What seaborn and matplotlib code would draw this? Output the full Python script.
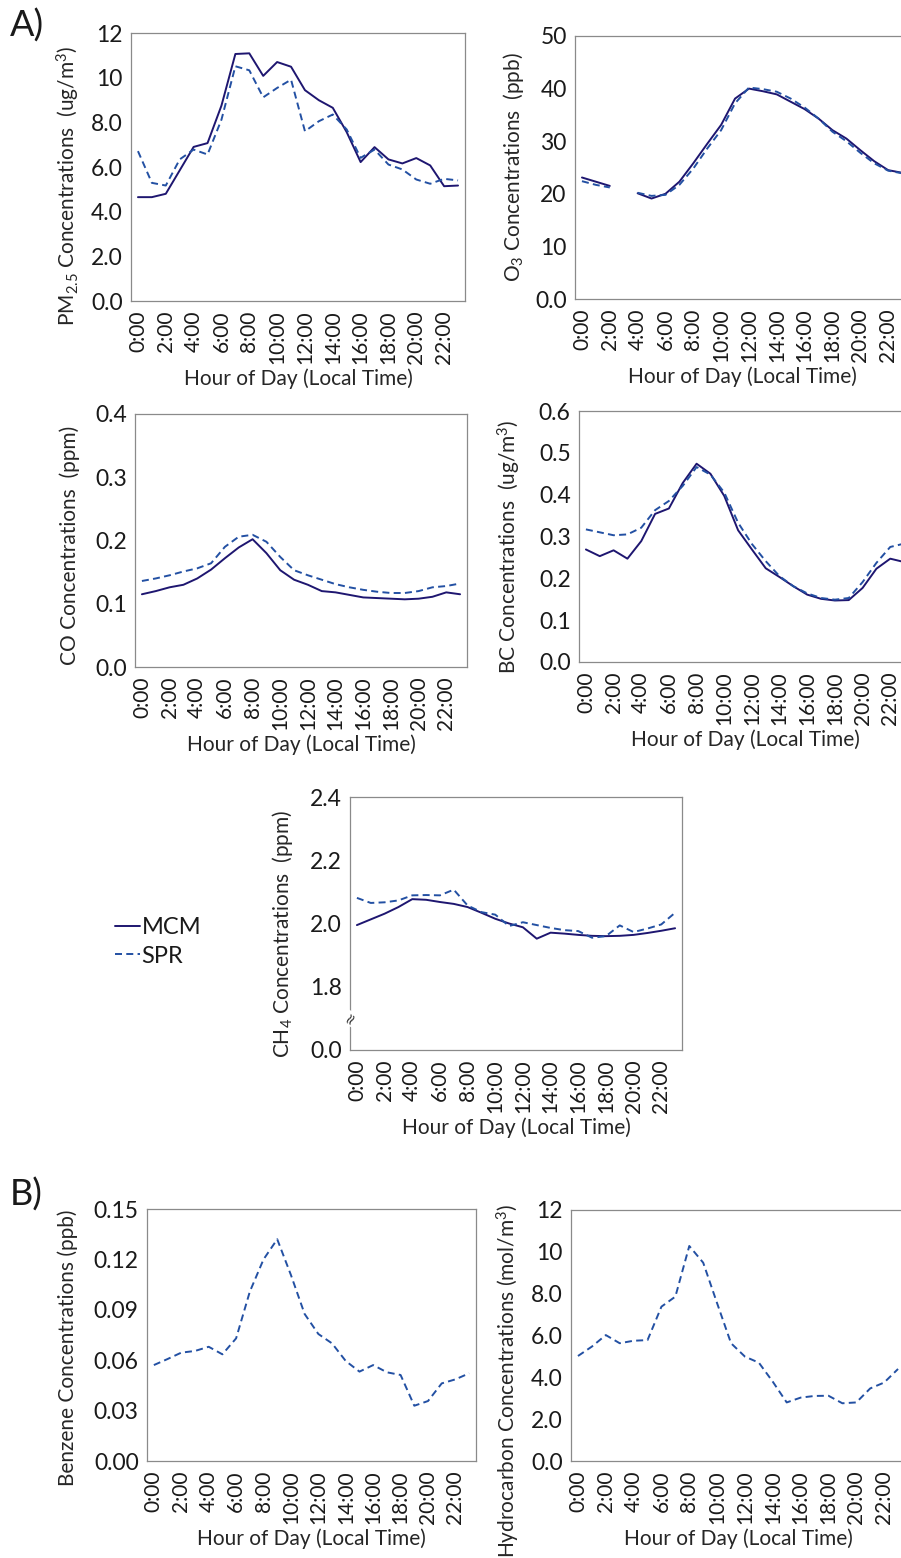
import matplotlib
matplotlib.use('Agg')
import matplotlib.pyplot as plt
import matplotlib.transforms as mtransforms
import seaborn as sns
import numpy as np
import pandas as pd

# hours of day (categorical x positions 0..23)
hours = list(range(24))
hour_labels = ['0:00', '', '2:00', '', '4:00', '', '6:00', '', '8:00', '', '10:00', '',
               '12:00', '', '14:00', '', '16:00', '', '18:00', '', '20:00', '', '22:00', '']

pm_mcm = [4.65, 4.65, 4.80, 5.85, 6.90, 7.07, 8.75, 11.06, 11.09, 10.08, 10.70, 10.49,
          9.44, 8.99, 8.65, 7.56, 6.22, 6.89, 6.34, 6.16, 6.40, 6.07, 5.14, 5.17]
pm_spr = [6.71, 5.29, 5.17, 6.34, 6.78, 6.56, 8.12, 10.51, 10.33, 9.12, 9.54, 9.91,
          7.60, 8.05, 8.35, 7.68, 6.41, 6.78, 6.11, 5.89, 5.44, 5.25, 5.47, 5.40]

o3_mcm = [23.1, 22.3, 21.5, np.nan, 20.1, 19.1, 20.0, 22.3, 25.8, 29.5, 33.1, 38.1,
          40.0, 39.5, 38.9, 37.5, 36.1, 34.3, 32.1, 30.5, 28.3, 26.2, 24.5, 24.0]
o3_spr = [22.4, 21.7, 21.2, np.nan, 20.2, 19.6, 19.8, 21.7, 24.8, 28.6, 32.1, 37.2,
          40.2, 39.9, 39.4, 38.1, 36.4, 34.3, 31.8, 30.0, 27.8, 25.8, 24.4, 23.9]

co_mcm = [0.115, 0.120, 0.126, 0.130, 0.140, 0.154, 0.172, 0.189, 0.202, 0.180, 0.153, 0.138,
          0.130, 0.120, 0.118, 0.114, 0.110, 0.109, 0.108, 0.107, 0.108, 0.111, 0.118, 0.115]
co_spr = [0.136, 0.140, 0.145, 0.151, 0.156, 0.164, 0.190, 0.206, 0.209, 0.198, 0.174, 0.153,
          0.145, 0.138, 0.131, 0.126, 0.122, 0.119, 0.117, 0.117, 0.120, 0.126, 0.128, 0.132]

bc_mcm = [0.269, 0.253, 0.267, 0.247, 0.289, 0.354, 0.367, 0.428, 0.474, 0.450, 0.397, 0.315,
          0.269, 0.224, 0.203, 0.181, 0.161, 0.151, 0.147, 0.148, 0.177, 0.223, 0.247, 0.239]
bc_spr = [0.317, 0.310, 0.303, 0.305, 0.321, 0.363, 0.385, 0.421, 0.466, 0.448, 0.405, 0.333,
          0.282, 0.241, 0.205, 0.181, 0.164, 0.153, 0.149, 0.153, 0.191, 0.237, 0.275, 0.283]

ch4_mcm = [1.995, 2.013, 2.031, 2.052, 2.077, 2.075, 2.068, 2.062, 2.052, 2.034, 2.015, 2.000,
           1.988, 1.952, 1.971, 1.968, 1.964, 1.961, 1.960, 1.961, 1.964, 1.970, 1.977, 1.985]
ch4_spr = [2.081, 2.065, 2.067, 2.073, 2.089, 2.090, 2.089, 2.107, 2.057, 2.036, 2.028, 1.992,
           2.004, 1.995, 1.986, 1.979, 1.976, 1.955, 1.960, 1.994, 1.973, 1.984, 1.997, 2.034]

benzene_spr = [0.0571, 0.0607, 0.0645, 0.0655, 0.0680, 0.0635, 0.0730, 0.1008, 0.1200, 0.1320,
               0.1107, 0.0875, 0.0756, 0.0700, 0.0595, 0.0532, 0.0571, 0.0528, 0.0512, 0.0329,
               0.0357, 0.0462, 0.0486, 0.0522]

hc_spr = [5.02, 5.47, 6.02, 5.63, 5.75, 5.78, 7.38, 7.86, 10.28, 9.48, 7.54, 5.63,
          4.99, 4.70, 3.79, 2.80, 3.03, 3.11, 3.12, 2.76, 2.80, 3.47, 3.75, 4.40]

pm_ticks = [0, 2, 4, 6, 8, 10, 12]
pm_ticklabels = ['0.0', '2.0', '4.0', '6.0', '8.0', '10', '12']
o3_ticks = [0, 10, 20, 30, 40, 50]
o3_ticklabels = ['0.0', '10', '20', '30', '40', '50']
co_ticks = [0.0, 0.1, 0.2, 0.3, 0.4]
co_ticklabels = ['0.0', '0.1', '0.2', '0.3', '0.4']
bc_ticks = [0.0, 0.1, 0.2, 0.3, 0.4, 0.5, 0.6]
bc_ticklabels = ['0.0', '0.1', '0.2', '0.3', '0.4', '0.5', '0.6']
ch4_ticks = [1.6, 1.8, 2.0, 2.2, 2.4]          # axis is broken: 1.6 stands for 0.0
ch4_ticklabels = ['0.0', '1.8', '2.0', '2.2', '2.4']
bz_ticks = [0.0, 0.03, 0.06, 0.09, 0.12, 0.15]
bz_ticklabels = ['0.00', '0.03', '0.06', '0.09', '0.12', '0.15']
hc_ticks = [0, 2, 4, 6, 8, 10, 12]
hc_ticklabels = ['0.0', '2.0', '4.0', '6.0', '8.0', '10', '12']

MCM_COLOR = '#1e1670'
SPR_COLOR = '#2350a3'
SPINE_COLOR = '#8a8a8a'
DASH = (0, (3.6, 2.2))

sns.set_theme(style='white')
plt.rcParams['font.family'] = ['Lato', 'DejaVu Sans']
plt.rcParams['mathtext.fontset'] = 'custom'
plt.rcParams['mathtext.rm'] = 'Lato'
plt.rcParams['mathtext.it'] = 'Lato:italic'
plt.rcParams['mathtext.bf'] = 'Lato:bold'
plt.rcParams['text.color'] = '#1a1a1a'

W, H = 901, 1558
fig = plt.figure(figsize=(W / 100, H / 100), dpi=100)


def rect(l, t, r, b):
    return [l / W, 1 - b / H, (r - l) / W, (b - t) / H]


def draw_series(ax, values, color, ls, label):
    df = pd.DataFrame({'hour': hours, 'value': values})
    df['seg'] = df['value'].isna().cumsum()
    df = df.dropna()
    sns.lineplot(data=df, x='hour', y='value', units='seg', estimator=None,
                 color=color, linestyle=ls, linewidth=1.4, ax=ax, label=label, legend=False)


def panel(box, mcm, spr, ticks, ticklabels, ylabel, label_xy):
    ax = fig.add_axes(rect(*box))
    if mcm is not None:
        draw_series(ax, mcm, MCM_COLOR, '-', 'MCM')
    draw_series(ax, spr, SPR_COLOR, DASH, 'SPR')
    ax.set_xlim(-0.5, 23.5)
    ax.set_ylim(ticks[0], ticks[-1])
    ax.set_xticks(hours)
    ax.set_xticklabels(hour_labels, rotation=90, fontsize=15)
    ax.set_yticks(ticks)
    ax.set_yticklabels(ticklabels, fontsize=16.5)
    ax.tick_params(length=0, pad=6, colors='#1a1a1a')
    ax.tick_params(axis='x', pad=7)
    ax.set_xlabel('Hour of Day (Local Time)', fontsize=15, labelpad=3)
    ax.set_ylabel(ylabel, fontsize=15)
    ax.yaxis.set_label_coords(*label_xy)
    for s in ax.spines.values():
        s.set_color(SPINE_COLOR)
        s.set_linewidth(0.9)
    return ax


panel((131, 33, 465, 301), pm_mcm, pm_spr, pm_ticks, pm_ticklabels,
      'PM$_{2.5}$ Concentrations  (ug/m$^3$)', (-0.147, 0.43))
panel((575, 36, 909, 299), o3_mcm, o3_spr, o3_ticks, o3_ticklabels,
      'O$_3$ Concentrations  (ppb)', (-0.147, 0.5))
panel((135, 414, 467, 667), co_mcm, co_spr, co_ticks, co_ticklabels,
      'CO Concentrations  (ppm)', (-0.165, 0.48))
panel((579, 411, 911, 662), bc_mcm, bc_spr, bc_ticks, bc_ticklabels,
      'BC Concentrations  (ug/m$^3$)', (-0.17, 0.46))
ax5 = panel((350, 797, 682, 1050), ch4_mcm, ch4_spr, ch4_ticks, ch4_ticklabels,
            'CH$_4$ Concentrations  (ppm)', (-0.165, 0.46))
panel((147, 1209, 476, 1461), None, benzene_spr, bz_ticks, bz_ticklabels,
      'Benzene Concentrations (ppb)', (-0.21, 0.45))
panel((571, 1210, 905, 1461), None, hc_spr, hc_ticks, hc_ticklabels,
      'Hydrocarbon Concentrations (mol/m$^3$)', (-0.147, 0.32))

# break mark on CH4 y axis
trans = mtransforms.blended_transform_factory(ax5.transAxes, ax5.transData)
ax5.text(0, 1.7, '≈', transform=trans, rotation=60, ha='center', va='center',
         fontsize=11, color='#333333', family='DejaVu Sans',
         bbox=dict(boxstyle='square,pad=0.05', fc='white', ec='none'))

fig.legend(handles=ax5.lines[:2], labels=['MCM', 'SPR'], loc='upper left',
           bbox_to_anchor=(106 / W, 1 - 908 / H), frameon=False, fontsize=17,
           handlelength=1.05, handletextpad=0.05, labelspacing=0.3, borderaxespad=0)

fig.text(10 / W, 1 - 26 / H, 'A)', fontsize=26, va='center', ha='left')
fig.text(10 / W, 1 - 1195 / H, 'B)', fontsize=26, va='center', ha='left')

fig.savefig('out.png', dpi=100)
